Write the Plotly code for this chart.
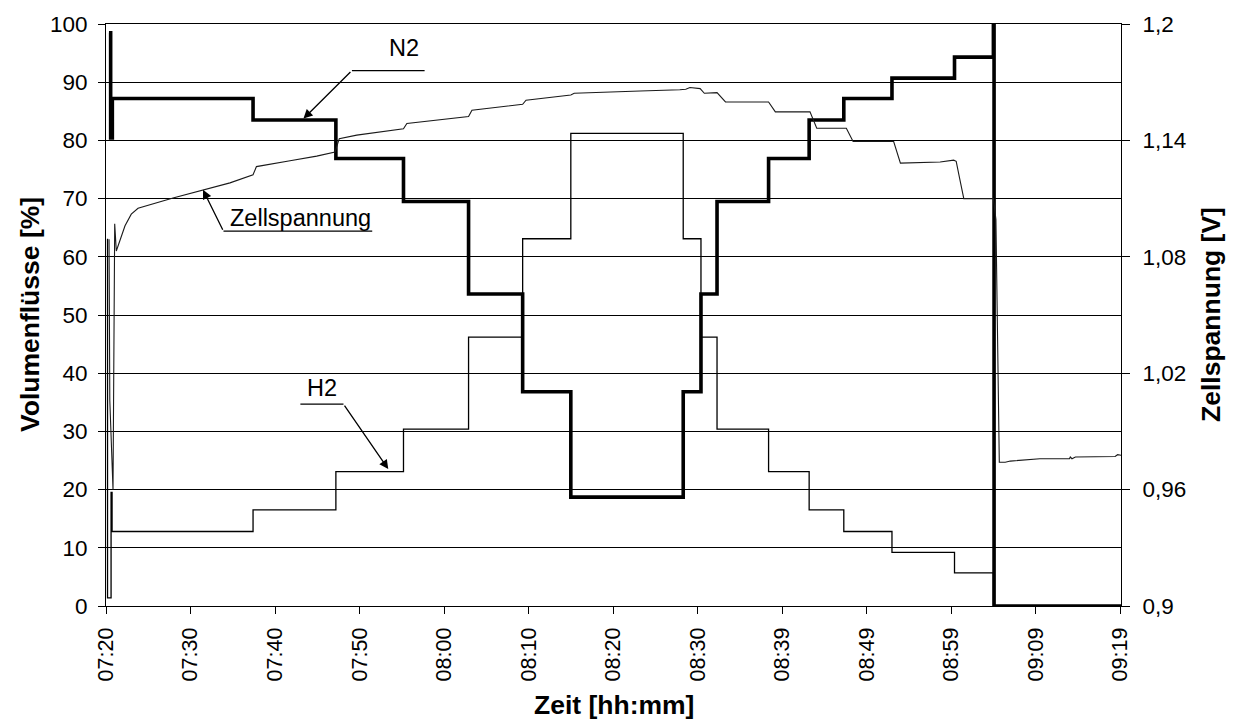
import numpy as np
import plotly.graph_objects as go

# ---- time axis: minutes after 07:20, labelled every 10 minutes of samples ----
tick_pos = list(range(0, 121, 10))
tick_labels = ["07:20", "07:30", "07:40", "07:50", "08:00", "08:10", "08:20",
               "08:30", "08:39", "08:49", "08:59", "09:09", "09:19"]
x_end = 120.1

# ---- N2 volume flow [%]: time at which each level starts, and the level ----
n2_t = [0.35, 0.55, 0.75, 17.4, 27.2, 35.2, 42.9, 49.3, 55.0, 68.3, 70.4,
        72.3, 78.4, 83.2, 87.3, 93.0, 100.4, 105.0, 105.08, 120.1]
n2_v = [98.5, 80.4, 87.2, 83.5, 76.9, 69.5, 53.6, 36.8, 18.7, 36.8, 53.6,
        69.5, 76.9, 83.5, 87.2, 90.7, 94.3, 101.0, 0.0, 0.0]

# ---- H2 volume flow [%] ----
h2_t = [0.12, 0.18, 0.6, 0.72, 17.4, 27.2, 35.2, 42.9, 49.3, 55.0, 68.3,
        70.4, 72.3, 78.4, 83.2, 87.3, 93.0, 100.4, 105.0, 120.1]
h2_v = [63.0, 1.4, 19.5, 12.8, 16.5, 23.1, 30.4, 46.2, 63.1, 81.2, 63.1,
        46.2, 30.4, 23.1, 16.5, 12.8, 9.2, 5.7, 0.0, 0.0]

# ---- cell voltage [V] ----
u_t = [0.36, 0.45, 0.83, 1.03, 1.22, 1.66, 2.25, 2.99, 3.79, 7.93, 11.48,
       14.67, 17.4, 17.8, 21.78, 24.93, 27.1, 27.6, 29.67, 33.6, 35.2, 35.6,
       39.1, 42.9, 43.3, 48.2, 49.3, 49.7, 53.7, 55.0, 55.4, 58.5, 63.2,
       67.9, 68.6, 69.1, 70.3, 70.8, 72.3, 73.3, 78.4, 79.2, 83.3, 84.1,
       87.6, 88.4, 93.2, 94.0, 98.7, 100.3, 100.6, 101.0, 101.5, 105.0,
       105.3, 105.7, 106.4, 107.0, 108.2, 110.5, 114.0, 114.1, 114.3, 114.7,
       119.4, 119.7, 120.1]
u_v = [1.089, 1.006, 0.960, 1.097, 1.083, 1.089, 1.096, 1.102, 1.105, 1.1103,
       1.1145, 1.1181, 1.1223, 1.1265, 1.1295, 1.1319, 1.134, 1.1409, 1.1427,
       1.1448, 1.146, 1.1487, 1.1505, 1.1523, 1.1556, 1.158, 1.1586, 1.1607,
       1.1628, 1.1634, 1.1643, 1.1649, 1.1655, 1.1661, 1.1664, 1.1673, 1.1667,
       1.1643, 1.1646, 1.1598, 1.1598, 1.1547, 1.1547, 1.1463, 1.1463, 1.1394,
       1.1394, 1.1283, 1.1289, 1.1298, 1.1292, 1.1205, 1.110, 1.110, 1.0992,
       0.9741, 0.9741, 0.9747, 0.975, 0.9759, 0.9759, 0.9768, 0.9759, 0.9768,
       0.9771, 0.978, 0.9777]

# ---- axis ticks ----
left_ticks = list(range(0, 101, 10))
right_ticks = [0.9, 0.96, 1.02, 1.08, 1.14, 1.2]
right_labels = ["0,9", "0,96", "1,02", "1,08", "1,14", "1,2"]

FONT = "Liberation Sans, Arial, sans-serif"
INK = "black"

fig = go.Figure()
fig.add_trace(go.Scatter(x=h2_t, y=h2_v, mode="lines", name="H2",
                         line=dict(color=INK, width=1.3, shape="hv")))
fig.add_trace(go.Scatter(x=n2_t, y=n2_v, mode="lines", name="N2",
                         line=dict(color=INK, width=3.6, shape="hv")))
fig.add_trace(go.Scatter(x=u_t, y=u_v, mode="lines", name="Zellspannung",
                         yaxis="y2", line=dict(color="#1a1a1a", width=1.1)))


def level_at(ts, vs, t):
    """Value of a step series at time t."""
    idx = max(i for i, s in enumerate(ts) if s <= t)
    return vs[idx]


# ---- callouts: label, leader line and arrow onto the curve ----
n2_tip_t = 23.2
n2_tip = level_at(n2_t, n2_v, n2_tip_t)
h2_tip_t = 33.6
h2_tip = level_at(h2_t, h2_v, h2_tip_t)
u_tip_t = 11.48
u_tip = float(np.interp(u_tip_t, u_t, u_v))

label_font = dict(family=FONT, size=23.5, color=INK)
title_font = dict(family=FONT, size=26.5, color=INK)
annotations = [
    dict(x=35.3, y=95.8, xref="x", yref="y", text="N2", showarrow=False,
         font=label_font),
    dict(x=n2_tip_t, y=n2_tip, xref="x", yref="y", ax=29.1, ay=92.0,
         axref="x", ayref="y", text="", showarrow=True, arrowhead=2,
         arrowsize=1.4, arrowwidth=1.3, arrowcolor=INK, standoff=2),
    dict(x=23.0, y=66.6, xref="x", yref="y", text="Zellspannung",
         showarrow=False, font=label_font),
    dict(x=u_tip_t, y=u_tip, xref="x", yref="y2", ax=13.9, ay=0.9 + 0.003 * 64.4,
         axref="x", ayref="y2", text="", showarrow=True, arrowhead=2,
         arrowsize=1.4, arrowwidth=1.3, arrowcolor=INK, standoff=0),
    dict(x=25.6, y=37.4, xref="x", yref="y", text="H2", showarrow=False,
         font=label_font),
    dict(x=h2_tip_t, y=h2_tip, xref="x", yref="y", ax=28.1, ay=34.7,
         axref="x", ayref="y", text="", showarrow=True, arrowhead=2,
         arrowsize=1.4, arrowwidth=1.3, arrowcolor=INK, standoff=3),
    # axis titles
    dict(x=0, y=0.5, xref="paper", yref="paper", xshift=-76, textangle=-90,
         xanchor="center", yanchor="middle",
         text="<b>Volumenflüsse [%]</b>", showarrow=False, font=title_font),
    dict(x=1, y=0.5, xref="paper", yref="paper", xshift=90, textangle=-90,
         xanchor="center", yanchor="middle",
         text="<b>Zellspannung [V]</b>", showarrow=False, font=title_font),
    dict(x=0.5, y=0, xref="paper", yref="paper", yshift=-99,
         xanchor="center", yanchor="middle",
         text="<b>Zeit [hh:mm]</b>", showarrow=False, font=title_font),
]

shapes = [
    dict(type="line", xref="x", yref="y", x0=29.1, x1=37.7, y0=92.0, y1=92.0,
         line=dict(color=INK, width=1.3)),
    dict(type="line", xref="x", yref="y", x0=13.9, x1=31.5, y0=64.4, y1=64.4,
         line=dict(color=INK, width=1.3)),
    dict(type="line", xref="x", yref="y", x0=23.0, x1=28.1, y0=34.7, y1=34.7,
         line=dict(color=INK, width=1.3)),
]

tick_font = dict(family=FONT, size=22.5, color=INK)
x_tick_font = dict(family=FONT, size=21.5, color=INK)
fig.update_layout(
    width=1234, height=722,
    margin=dict(l=106, r=113, t=22, b=116),
    paper_bgcolor="white", plot_bgcolor="white",
    showlegend=False, hovermode=False,
    annotations=annotations, shapes=shapes,
    xaxis=dict(range=[0, x_end], tickmode="array", tickvals=tick_pos,
               ticktext=tick_labels, tickangle=-90, ticks="outside",
               ticklen=7, tickcolor=INK, showline=True, linecolor=INK,
               linewidth=1, showgrid=False, zeroline=False, mirror=True,
               tickfont=x_tick_font, ticklabelstandoff=5),
    yaxis=dict(range=[0, 100], tickmode="array", tickvals=left_ticks,
               ticks="outside", ticklen=7, tickcolor=INK, showline=True,
               linecolor=INK, linewidth=1, showgrid=True, gridcolor=INK,
               gridwidth=1, zeroline=False, tickfont=tick_font,
               ticklabelstandoff=6),
    yaxis2=dict(range=[0.9, 1.2], overlaying="y", side="right",
                tickmode="array", tickvals=right_ticks, ticktext=right_labels,
                ticks="outside", ticklen=8, tickcolor=INK, showline=True,
                linecolor=INK, linewidth=1, showgrid=False, zeroline=False,
                tickfont=tick_font, ticklabelstandoff=8),
)

fig.write_html("out.html", config={"displayModeBar": False})
